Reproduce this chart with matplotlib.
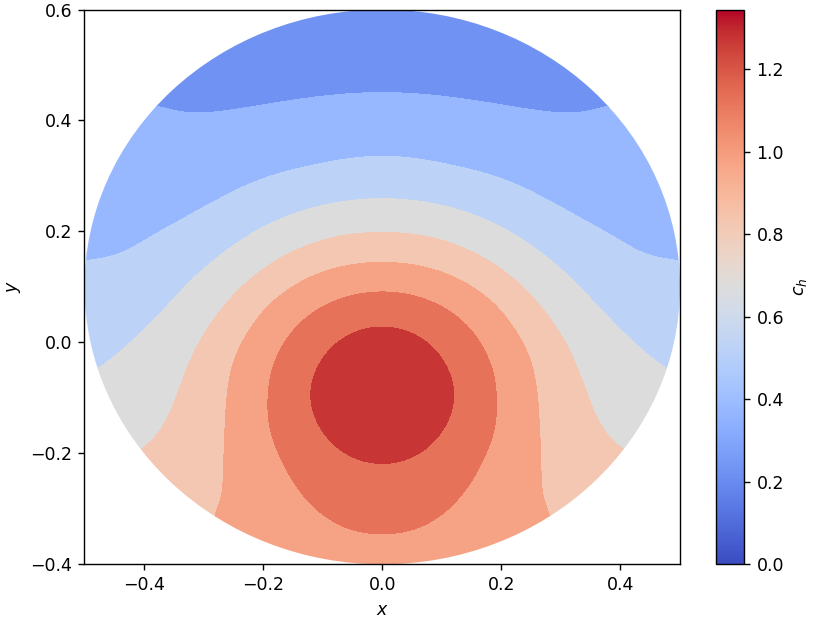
import numpy as np
import matplotlib
matplotlib.use("Agg")
import matplotlib.pyplot as plt
from matplotlib.patches import Circle
from matplotlib.colors import Normalize
from matplotlib.cm import ScalarMappable

# disk domain
cx, cy, radius = 0.0, 0.1, 0.5

# contour traces (left half, mirrored below)
c_levels = [0.3, 0.45, 0.6, 0.75, 0.9, 1.05, 1.2]
trace_x = [
    [-0.378, -0.346, -0.321, -0.249, -0.185, -0.122, -0.057, 0.0],
    [-0.495, -0.466, -0.432, -0.388, -0.332, -0.276, -0.198, -0.121, -0.057, 0.0],
    [-0.476, -0.444, -0.404, -0.360, -0.315, -0.265, -0.198, -0.115, 0.0],
    [-0.404, -0.379, -0.354, -0.333, -0.305, -0.266, -0.216, -0.154, -0.087, 0.0],
    [-0.282, -0.268, -0.266, -0.263, -0.260, -0.249, -0.227, -0.188, -0.132, -0.070, 0.0],
    [0.0, -0.076, -0.132, -0.171, -0.191, -0.188, -0.171, -0.143, -0.109, -0.065, -0.020, 0.0],
    [0.0, -0.037, -0.070, -0.098, -0.115, -0.121, -0.115, -0.098, -0.070, -0.037, 0.0],
]
trace_y = [
    [0.427, 0.417, 0.413, 0.420, 0.431, 0.441, 0.448, 0.450],
    [0.149, 0.152, 0.163, 0.191, 0.224, 0.257, 0.296, 0.318, 0.331, 0.336],
    [-0.047, -0.020, 0.019, 0.067, 0.118, 0.163, 0.209, 0.243, 0.259],
    [-0.191, -0.170, -0.122, -0.062, 0.004, 0.064, 0.118, 0.161, 0.188, 0.198],
    [-0.307, -0.277, -0.217, -0.140, -0.092, -0.032, 0.016, 0.070, 0.112, 0.136, 0.144],
    [0.091, 0.076, 0.040, -0.014, -0.092, -0.158, -0.206, -0.260, -0.302, -0.332, -0.344, -0.345],
    [0.028, 0.022, 0.004, -0.026, -0.062, -0.092, -0.128, -0.164, -0.194, -0.212, -0.218],
]

# extra estimates: rim values and the peak
extra_x = [0.0, -0.25, -0.45, -0.4975, -0.45, -0.35, -0.15, 0.0, 0.0]
extra_y = [0.6, 0.533, 0.318, 0.05, -0.118, -0.257, -0.377, -0.4, -0.093]
extra_c = [0.2, 0.22, 0.36, 0.52, 0.675, 0.825, 0.97, 1.0, 1.3]

# collect samples, mirror to x > 0
px, py, pc = [], [], []
for lev, xs, ys in zip(c_levels, trace_x, trace_y):
    for xv, yv in zip(xs, ys):
        px.append(xv); py.append(yv); pc.append(lev)
        if xv != 0.0:
            px.append(-xv); py.append(yv); pc.append(lev)
for xv, yv, cv in zip(extra_x, extra_y, extra_c):
    px.append(xv); py.append(yv); pc.append(cv)
    if xv != 0.0:
        px.append(-xv); py.append(yv); pc.append(cv)
px = np.array(px); py = np.array(py); pc = np.array(pc)


def tps_kernel(r):
    with np.errstate(divide="ignore", invalid="ignore"):
        k = r**2 * np.log(r)
    return np.nan_to_num(k)


# smoothing thin plate spline through the samples
n = len(px)
r = np.hypot(px[:, None] - px[None, :], py[:, None] - py[None, :])
P = np.column_stack([np.ones(n), px, py])
A = np.zeros((n + 3, n + 3))
A[:n, :n] = tps_kernel(r) + 1e-3 * np.eye(n)
A[:n, n:] = P
A[n:, :n] = P.T
sol = np.linalg.solve(A, np.concatenate([pc, np.zeros(3)]))
w, coef = sol[:n], sol[n:]

gx = np.linspace(-0.5, 0.5, 300)
gy = np.linspace(-0.4, 0.6, 300)
X, Y = np.meshgrid(gx, gy)
rg = np.hypot(X.ravel()[:, None] - px[None, :], Y.ravel()[:, None] - py[None, :])
Z = (tps_kernel(rg) @ w + coef[0] + coef[1] * X.ravel() + coef[2] * Y.ravel()).reshape(X.shape)

vmax = 1.345
levels = np.linspace(0.15, 1.35, 9)

fig = plt.figure(figsize=(6.64, 4.984), dpi=125)
ax = fig.add_axes([0.1018, 0.0942, 0.7175, 0.8905])
cax = fig.add_axes([0.8627, 0.0942, 0.0341, 0.8905])

cs = ax.contourf(X, Y, Z, levels=levels, cmap="coolwarm", vmin=0, vmax=vmax)
disk = Circle((cx, cy), radius, transform=ax.transData, facecolor="none", edgecolor="none")
ax.add_patch(disk)
cs.set_clip_path(disk)

ax.set_xlim(-0.5, 0.5)
ax.set_ylim(-0.4, 0.6)
ax.set_xlabel("$x$")
ax.set_ylabel("$y$")

sm = ScalarMappable(norm=Normalize(vmin=0, vmax=vmax), cmap="coolwarm")
cb = fig.colorbar(sm, cax=cax)
cb.set_label("$c_h$")

fig.savefig("out.png", dpi=125)
